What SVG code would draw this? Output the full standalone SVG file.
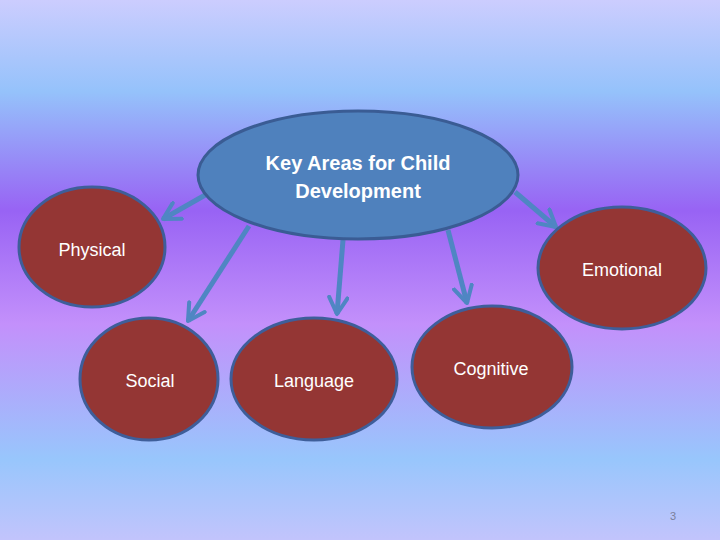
<svg xmlns="http://www.w3.org/2000/svg" width="720" height="540" viewBox="0 0 720 540">
  <defs>
    <linearGradient id="bg" x1="0" y1="0" x2="0" y2="1">
      <stop offset="0" stop-color="#cccdfe"/>
      <stop offset="0.17" stop-color="#95c2fb"/>
      <stop offset="0.39" stop-color="#9863f4"/>
      <stop offset="0.6" stop-color="#c390fb"/>
      <stop offset="0.85" stop-color="#98c6fc"/>
      <stop offset="1" stop-color="#c2c4fc"/>
    </linearGradient>
    <marker id="arr" viewBox="0 0 12 12" refX="10" refY="6" markerWidth="4.4" markerHeight="4.4" orient="auto" markerUnits="strokeWidth">
      <path d="M1,1 L10,6 L1,11" fill="none" stroke="#4f86c3" stroke-width="2.2" stroke-linecap="round" stroke-linejoin="round"/>
    </marker>
    <style>
      .child { fill: #943634; stroke: #3e5e9a; stroke-width: 3; }
      .hub { fill: #4f81bd; stroke: #3a5c94; stroke-width: 3; }
      .lbl { font-family: "Liberation Sans", Arial, sans-serif; font-size: 18px; fill: #ffffff; text-anchor: middle; }
      .title { font-family: "Liberation Sans", Arial, sans-serif; font-size: 20px; font-weight: bold; fill: #ffffff; text-anchor: middle; }
      .conn { stroke: #4f86c3; stroke-width: 5; fill: none; marker-end: url(#arr); }
    </style>
  </defs>
  <rect x="0" y="0" width="720" height="540" fill="url(#bg)"/>

  <g id="connectors">
    <line class="conn" x1="207" y1="194" x2="163" y2="219"/>
    <line class="conn" x1="249" y1="226" x2="188" y2="321"/>
    <line class="conn" x1="343" y1="240" x2="337" y2="314"/>
    <line class="conn" x1="448" y1="230" x2="467" y2="303"/>
    <line class="conn" x1="515" y1="192" x2="556" y2="227"/>
  </g>

  <g id="hub">
    <ellipse class="hub" cx="358" cy="175" rx="160" ry="64"/>
    <text class="title" x="358" y="170">Key Areas for Child</text>
    <text class="title" x="358" y="198">Development</text>
  </g>

  <g id="physical">
    <ellipse class="child" cx="92" cy="247" rx="73" ry="60"/>
    <text class="lbl" x="92" y="256">Physical</text>
  </g>

  <g id="emotional">
    <ellipse class="child" cx="622" cy="268" rx="84" ry="61"/>
    <text class="lbl" x="622" y="276">Emotional</text>
  </g>

  <g id="social">
    <ellipse class="child" cx="149" cy="379" rx="69" ry="61"/>
    <text class="lbl" x="150" y="387">Social</text>
  </g>

  <g id="language">
    <ellipse class="child" cx="314" cy="379" rx="83" ry="61"/>
    <text class="lbl" x="314" y="387">Language</text>
  </g>

  <g id="cognitive">
    <ellipse class="child" cx="492" cy="367" rx="80" ry="61"/>
    <text class="lbl" x="491" y="375">Cognitive</text>
  </g>

  <text x="673" y="520" font-family="Liberation Sans, Arial, sans-serif" font-size="11" fill="#7a7f9a" text-anchor="middle">3</text>
</svg>
